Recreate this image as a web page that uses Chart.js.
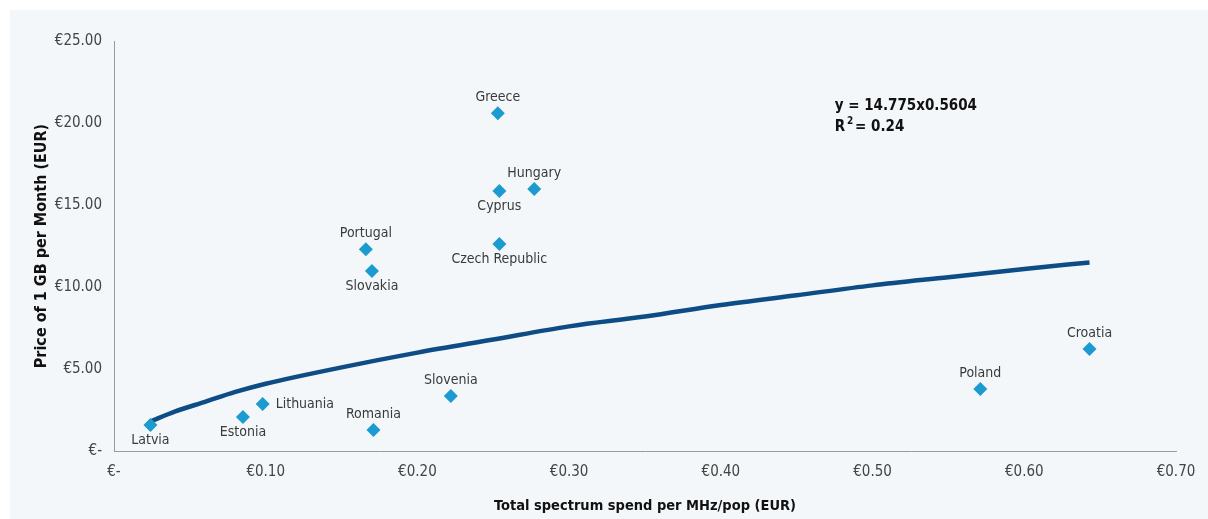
<!DOCTYPE html>
<html>
<head>
<meta charset="utf-8">
<script src="https://cdn.jsdelivr.net/npm/chart.js@4.4.1/dist/chart.umd.min.js"></script>
<style>
    html, body { margin: 0; padding: 0; background: #ffffff; }
    #wrap { width: 1208px; height: 519px; position: relative; }
</style>
</head>
<body>
<div id="wrap"><canvas id="spectrumChart" width="1208" height="519"></canvas></div>
<script>
// Country data
const countries = ['Latvia', 'Estonia', 'Lithuania', 'Romania', 'Slovenia', 'Portugal', 'Slovakia',
    'Greece', 'Cyprus', 'Hungary', 'Czech Republic', 'Poland', 'Croatia'];
const spendPerMHz = [0.024, 0.085, 0.098, 0.171, 0.222, 0.166, 0.170, 0.253, 0.254, 0.277, 0.254, 0.571, 0.643];
const pricePerGB = [1.59, 2.07, 2.87, 1.28, 3.35, 12.3, 10.98, 20.6, 15.85, 15.98, 12.62, 3.78, 6.22];

// Power trendline
const trendX = [0.024, 0.04, 0.06, 0.08, 0.10, 0.15, 0.20, 0.25, 0.30, 0.35, 0.40, 0.45, 0.50, 0.55, 0.60, 0.643];
const trendY = [1.8, 2.4, 3.0, 3.6, 4.1, 5.1, 6.0, 6.8, 7.6, 8.2, 8.9, 9.5, 10.1, 10.6, 11.1, 11.5];

const xTicks = [0, 0.1, 0.2, 0.3, 0.4, 0.5, 0.6, 0.7];
const yTicks = [0, 5, 10, 15, 20, 25];

const trendEquation = 'y = 14.775x0.5604';
const trendR2 = '0.24';

const NARROW = '"Liberation Sans Narrow", "DejaVu Sans Condensed", Roboto, sans-serif';

// label placement around each marker
const labelPlace = {
    'Latvia': 'below', 'Estonia': 'below', 'Lithuania': 'right', 'Romania': 'above',
    'Slovenia': 'above', 'Portugal': 'above', 'Slovakia': 'below', 'Greece': 'above',
    'Cyprus': 'below', 'Hungary': 'above', 'Czech Republic': 'below', 'Poland': 'above', 'Croatia': 'above'
};

const panelBg = {
    id: 'panelBg',
    beforeDraw(chart) {
        const ctx = chart.ctx;
        ctx.save();
        ctx.fillStyle = '#f3f7f9';
        ctx.fillRect(10, 10, chart.width - 10, chart.height - 10);
        ctx.restore();
    }
};

const pointLabels = {
    id: 'pointLabels',
    afterDatasetsDraw(chart) {
        const ctx = chart.ctx;
        const meta = chart.getDatasetMeta(1);
        ctx.save();
        ctx.font = '14px ' + NARROW;
        ctx.fillStyle = '#3a3a3a';
        meta.data.forEach((pt, i) => {
            const name = countries[i];
            const place = labelPlace[name];
            if (place === 'right') {
                ctx.textAlign = 'left';
                ctx.textBaseline = 'middle';
                ctx.fillText(name, pt.x + 13, pt.y);
            } else if (place === 'above') {
                ctx.textAlign = 'center';
                ctx.textBaseline = 'bottom';
                ctx.fillText(name, pt.x, pt.y - 9);
            } else {
                ctx.textAlign = 'center';
                ctx.textBaseline = 'top';
                ctx.fillText(name, pt.x, pt.y + 8);
            }
        });

        // trendline equation
        const xs = chart.scales.x, ys = chart.scales.y;
        const ex = xs.getPixelForValue(0.475), ey = ys.getPixelForValue(21.0);
        ctx.font = 'bold 15px ' + NARROW;
        ctx.fillStyle = '#111';
        ctx.textAlign = 'left';
        ctx.textBaseline = 'middle';
        ctx.fillText(trendEquation, ex, ey);
        ctx.fillText('R', ex, ey + 21);
        const rw = ctx.measureText('R').width;
        ctx.font = 'bold 10px ' + NARROW;
        ctx.fillText('2', ex + rw + 2, ey + 15);
        ctx.font = 'bold 15px ' + NARROW;
        ctx.fillText('= ' + trendR2, ex + rw + 10, ey + 21);
        ctx.restore();
    }
};

function euro(v, decimals) {
    if (v === 0) return '€-';
    return '€' + v.toFixed(decimals);
}

const ctx = document.getElementById('spectrumChart');
new Chart(ctx, {
    type: 'scatter',
    data: {
        datasets: [{
            label: 'Trend',
            type: 'line',
            data: trendX.map((x, i) => ({ x: x, y: trendY[i] })),
            borderColor: '#0e4c86',
            borderWidth: 4.5,
            pointRadius: 0,
            fill: false,
            cubicInterpolationMode: 'monotone',
            order: 2
        }, {
            label: 'Countries',
            data: spendPerMHz.map((x, i) => ({ x: x, y: pricePerGB[i] })),
            pointStyle: 'rectRot',
            pointRadius: 7,
            backgroundColor: '#1b9bcf',
            borderColor: '#1b9bcf',
            borderWidth: 0,
            order: 1
        }]
    },
    options: {
        responsive: false,
        animation: false,
        layout: { padding: { left: 28, right: 32, top: 41, bottom: 0 } },
        plugins: {
            legend: { display: false },
            tooltip: { enabled: false }
        },
        scales: {
            x: {
                type: 'linear',
                min: 0, max: 0.7,
                afterBuildTicks: (s) => { s.ticks = xTicks.map(v => ({ value: v })); },
                afterFit: (s) => { s.height = 68; },
                grid: { display: false, drawTicks: true, tickLength: 6, color: '#9a9a9a' },
                border: { display: true, color: '#9a9a9a', width: 1 },
                ticks: {
                    callback: (v) => euro(v, 2),
                    color: '#444',
                    font: { family: NARROW, size: 15 },
                    padding: 6,
                    maxRotation: 0
                },
                title: {
                    display: true,
                    text: 'Total spectrum spend per MHz/pop (EUR)',
                    color: '#111',
                    font: { family: NARROW, size: 14.5, weight: 'bold' },
                    padding: { top: 14 }
                }
            },
            y: {
                type: 'linear',
                min: 0, max: 25,
                afterBuildTicks: (s) => { s.ticks = yTicks.map(v => ({ value: v })); },
                afterFit: (s) => { s.width = 86; },
                grid: { display: false, drawTicks: true, tickLength: 6, color: '#9a9a9a' },
                border: { display: true, color: '#9a9a9a', width: 1 },
                ticks: {
                    callback: (v) => euro(v, 2),
                    color: '#444',
                    font: { family: NARROW, size: 15 },
                    padding: 6
                },
                title: {
                    display: true,
                    text: 'Price of 1 GB per Month (EUR)',
                    color: '#111',
                    font: { family: NARROW, size: 16, weight: 'bold' },
                    padding: { bottom: 4 }
                }
            }
        }
    },
    plugins: [panelBg, pointLabels]
});
</script>
</body>
</html>
